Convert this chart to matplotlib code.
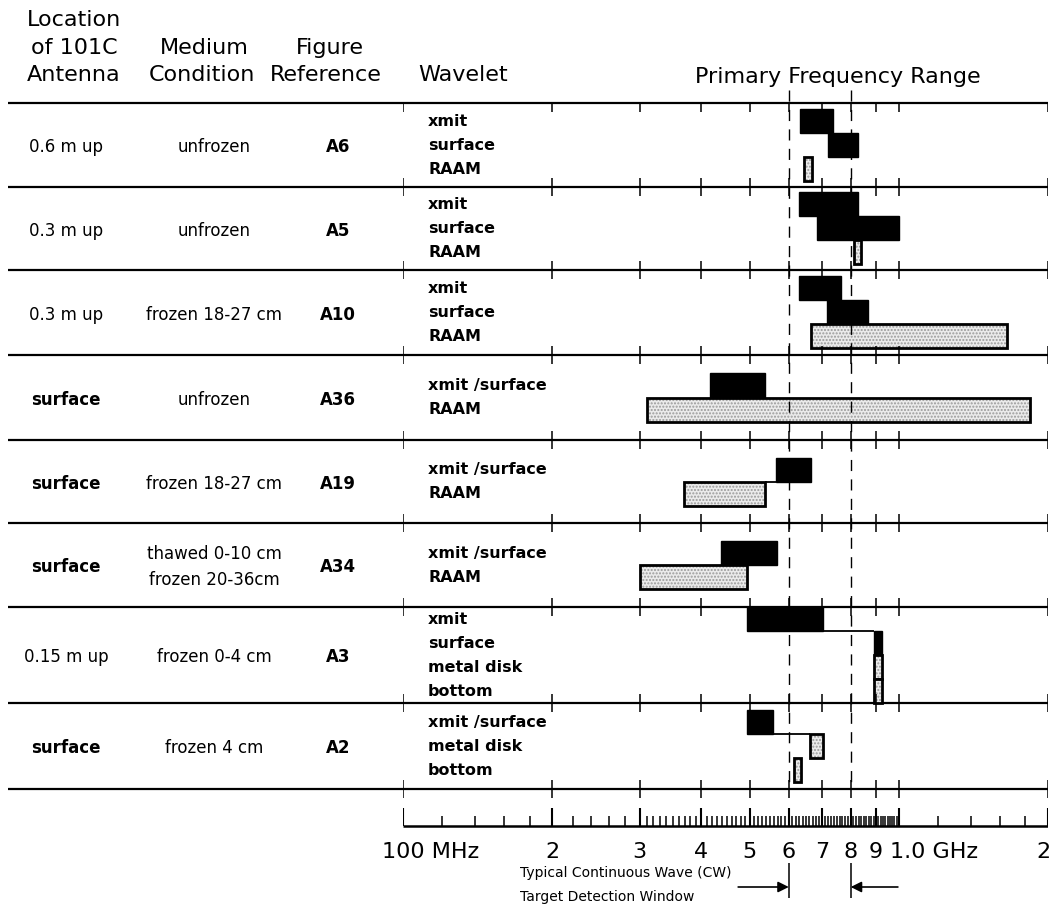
import matplotlib.pyplot as plt
from matplotlib.transforms import offset_copy

plt.rcParams['font.family'] = 'DejaVu Sans'

# ---------------------------------------------------------------- data
locations = ['0.6 m up', '0.3 m up', '0.3 m up', 'surface', 'surface',
             'surface', '0.15 m up', 'surface']
loc_bold = [False, False, False, True, True, True, False, True]
conditions = ['unfrozen', 'unfrozen', 'frozen 18-27 cm', 'unfrozen',
              'frozen 18-27 cm', 'thawed 0-10 cm\nfrozen 20-36cm',
              'frozen 0-4 cm', 'frozen 4 cm']
fig_refs = ['A6', 'A5', 'A10', 'A36', 'A19', 'A34', 'A3', 'A2']
wavelets = [['xmit', 'surface', 'RAAM'],
            ['xmit', 'surface', 'RAAM'],
            ['xmit', 'surface', 'RAAM'],
            ['xmit /surface', 'RAAM'],
            ['xmit /surface', 'RAAM'],
            ['xmit /surface', 'RAAM'],
            ['xmit', 'surface', 'metal disk', 'bottom'],
            ['xmit /surface', 'metal disk', 'bottom']]

# (row, wavelet slot, low MHz, high MHz, kind)  kind: b = black, s = stippled
bars = [(0, 0, 632, 737, 'b'), (0, 1, 720, 827, 'b'), (0, 2, 644, 668, 's'),
        (1, 0, 629, 827, 'b'), (1, 1, 684, 1000, 'b'), (1, 2, 811, 839, 's'),
        (2, 0, 629, 764, 'b'), (2, 1, 716, 866, 'b'), (2, 2, 665, 1650, 's'),
        (3, 0, 417, 538, 'b'), (3, 1, 310, 1840, 's'),
        (4, 0, 566, 665, 'b'), (4, 1, 368, 538, 's'),
        (5, 0, 438, 568, 'b'), (5, 1, 300, 495, 's'),
        (6, 0, 495, 703, 'b'), (6, 1, 891, 924, 'b'), (6, 2, 891, 924, 's'),
        (6, 3, 891, 924, 's'),
        (7, 0, 495, 558, 'b'), (7, 1, 662, 703, 's'), (7, 2, 615, 635, 's')]
# thin lines joining slot 0 and slot 1 bars of a row
connectors = [4, 6, 7]

cw_window = [600, 800]
major_ticks = [100, 200, 300, 400, 500, 600, 700, 800, 900, 1000, 2000]
minor_ticks = ([120, 140, 160, 180, 220, 240, 260, 280] +
               [f for f in range(310, 1000, 10) if f % 100] +
               [1200, 1400, 1600, 1800])
tick_text = ['2', '3', '4', '5', '6', '7', '8', '9']
tick_text_pos = [200, 300, 400, 500, 600, 700, 800, 900]

# ---------------------------------------------------------------- layout
W, H = 1054, 905
row_edges = [103, 187, 270, 355, 440, 523, 607, 703, 789]
slot_h = 24
axis_y = 826

fig = plt.figure(figsize=(W / 100, H / 100), dpi=100)
bg = fig.add_axes([0, 0, 1, 1])
bg.set_xlim(0, W)
bg.set_ylim(H, 0)
bg.axis('off')

ax = fig.add_axes([403 / W, 0, (1048 - 403) / W, 1])
ax.set_xscale('log')
ax.set_xlim(100, 2000)
ax.set_ylim(H, 0)
ax.axis('off')


def slot_top(r, s):
    mid = (row_edges[r] + row_edges[r + 1]) / 2
    return mid - len(wavelets[r]) * slot_h / 2 + s * slot_h


# header
hdr = dict(fontsize=16, ha='center', va='center')
bg.text(74, 20, 'Location', **hdr)
bg.text(74, 48, 'of 101C', **hdr)
bg.text(74, 75, 'Antenna', **hdr)
bg.text(204, 48, 'Medium', **hdr)
bg.text(202, 75, 'Condition', **hdr)
bg.text(330, 48, 'Figure', **hdr)
bg.text(326, 75, 'Reference', **hdr)
bg.text(418, 75, 'Wavelet', fontsize=16, ha='left', va='center')
bg.text(838, 77, 'Primary Frequency Range', **hdr)

# row separators and their ticks
bg.hlines(row_edges, 8, 1048, color='k', lw=1.6)
for i, y in enumerate(row_edges):
    top = y if i == 0 else y - 9
    ax.vlines(major_ticks, top, y + 9, color='k', lw=1.1)

# window lines
ax.vlines(cw_window, 90, row_edges[-1], color='k', lw=1.0,
          linestyles=(0, (8, 6)))

# row texts
for r in range(len(fig_refs)):
    yc = (row_edges[r] + row_edges[r + 1]) / 2 + 2
    bg.text(66, yc, locations[r], fontsize=12, ha='center', va='center',
            fontweight='bold' if loc_bold[r] else 'normal')
    bg.text(214, yc, conditions[r], fontsize=12, ha='center', va='center',
            linespacing=1.55)
    bg.text(338, yc, fig_refs[r], fontsize=12, ha='center', va='center',
            fontweight='bold')
    for s, lab in enumerate(wavelets[r]):
        bg.text(428, slot_top(r, s) + slot_h / 2, lab, fontsize=11.5,
                fontweight='bold', ha='left', va='center')

# bars
for r, s, lo, hi, kind in bars:
    yc = slot_top(r, s) + slot_h / 2
    if kind == 'b':
        ax.barh(yc, hi - lo, left=lo, height=slot_h, color='k',
                edgecolor='k', lw=1)
    else:
        ax.barh(yc, hi - lo, left=lo, height=slot_h, color='#ebebeb',
                edgecolor='#9a9a9a', hatch='.....', lw=0)
        ax.barh(yc, hi - lo, left=lo, height=slot_h, color='none',
                edgecolor='k', lw=2)

for r in connectors:
    row_bars = [b for b in bars if b[0] == r and b[1] in (0, 1)]
    a, b = sorted(row_bars, key=lambda t: t[2])[:2]
    ax.hlines(slot_top(r, 1), a[3], b[2], color='k', lw=1.3)

# frequency axis
ax.hlines(axis_y, 100, 2000, color='k', lw=1.8)
ax.vlines(major_ticks, axis_y - 18, axis_y, color='k', lw=1.5)
ax.vlines(minor_ticks, axis_y - 10, axis_y, color='k', lw=1.1)

lab_y = 852
ax.text(100, lab_y, '100 MHz', fontsize=16, ha='left', va='center',
        transform=offset_copy(ax.transData, fig=fig, x=-21, y=0,
                              units='dots'))
for f, t in zip(tick_text_pos, tick_text):
    ax.text(f, lab_y, t, fontsize=16, ha='center', va='center')
ax.text(1000, lab_y, '1.0 GHz', fontsize=16, ha='left', va='center',
        transform=offset_copy(ax.transData, fig=fig, x=-9, y=0,
                              units='dots'))
ax.text(2000, lab_y, '2', fontsize=16, ha='center', va='center',
        transform=offset_copy(ax.transData, fig=fig, x=-5, y=0,
                              units='dots'))

# CW detection window marker
ax.vlines(cw_window, 863, 898, color='k', lw=1.1)
arr = dict(arrowstyle='-|>', color='k', lw=1.2, mutation_scale=16,
           shrinkA=0, shrinkB=0)
ax.annotate('', xy=(cw_window[0], 887), xytext=(cw_window[0] / 1.265, 887),
            arrowprops=arr)
ax.annotate('', xy=(cw_window[1], 887), xytext=(cw_window[1] * 1.245, 887),
            arrowprops=arr)
bg.text(520, 873, 'Typical Continuous Wave (CW)', fontsize=10,
        ha='left', va='center')
bg.text(520, 897, 'Target Detection Window', fontsize=10,
        ha='left', va='center')

fig.savefig('out.png', dpi=100)
